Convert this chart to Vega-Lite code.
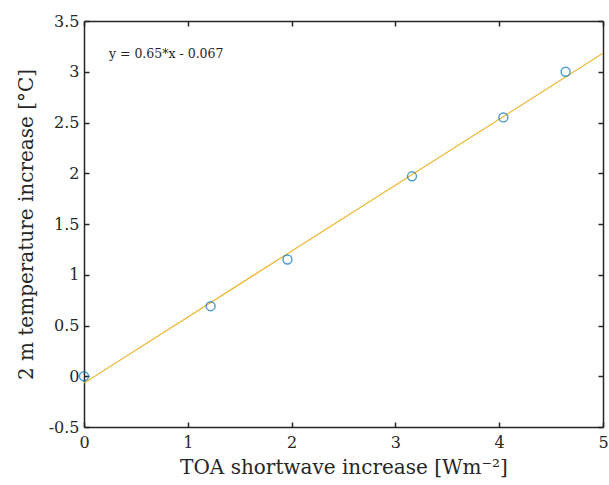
{
  "$schema": "https://vega.github.io/schema/vega-lite/v6.json",
  "autosize": "none",
  "width": 519,
  "height": 406,
  "padding": {"left": 84, "top": 21, "right": 6, "bottom": 58},
  "background": "white",
  "config": {
    "view": {"stroke": null},
    "font": "DejaVu Serif",
    "axis": {
      "domainColor": "#262626",
      "domainWidth": 1.5,
      "tickColor": "#262626",
      "tickWidth": 1.5,
      "tickSize": -5,
      "grid": false,
      "labelFlush": false,
      "labelOverlap": false,
      "labelFont": "DejaVu Serif",
      "labelFontSize": 16,
      "labelColor": "#262626",
      "titleFont": "DejaVu Serif",
      "titleFontSize": 20,
      "titleFontWeight": "normal",
      "titleColor": "#262626"
    }
  },
  "datasets": {
    "runs": [
      {"sw": 0.0, "t2m": 0.0},
      {"sw": 1.22, "t2m": 0.69},
      {"sw": 1.96, "t2m": 1.15},
      {"sw": 3.16, "t2m": 1.97},
      {"sw": 4.04, "t2m": 2.55},
      {"sw": 4.64, "t2m": 3.0}
    ],
    "fit": [
      {"sw": 0, "t2m": -0.067},
      {"sw": 5, "t2m": 3.183}
    ],
    "note": [
      {"sw": 0.24, "t2m": 3.17, "label": "y = 0.65*x - 0.067"}
    ]
  },
  "layer": [
    {
      "data": {"name": "fit"},
      "mark": {"type": "line", "color": "#EDB120", "strokeWidth": 1.1, "clip": true},
      "encoding": {
        "x": {
          "field": "sw", "type": "quantitative",
          "scale": {"domain": [0, 5], "nice": false, "zero": false},
          "axis": {
            "orient": "top", "labels": false, "title": null,
            "values": [0, 1, 2, 3, 4, 5]
          }
        },
        "y": {
          "field": "t2m", "type": "quantitative",
          "scale": {"domain": [-0.5, 3.5], "nice": false, "zero": false},
          "axis": {
            "orient": "right", "labels": false, "title": null,
            "values": [-0.5, 0, 0.5, 1, 1.5, 2, 2.5, 3, 3.5]
          }
        }
      }
    },
    {
      "data": {"name": "runs"},
      "mark": {"type": "point", "shape": "circle", "filled": false, "color": "#0072BD", "strokeWidth": 1.4, "size": 80},
      "encoding": {
        "x": {
          "field": "sw", "type": "quantitative",
          "axis": {
            "orient": "bottom",
            "values": [0, 1, 2, 3, 4, 5],
            "labelExpr": "format(datum.value, '~g')",
            "labelPadding": 12,
            "title": "TOA shortwave increase [Wm⁻²]",
            "titlePadding": 7
          }
        },
        "y": {
          "field": "t2m", "type": "quantitative",
          "axis": {
            "orient": "left",
            "values": [-0.5, 0, 0.5, 1, 1.5, 2, 2.5, 3, 3.5],
            "labelExpr": "replace(format(datum.value, '~g'), '−', '-')",
            "labelPadding": 10,
            "title": "2 m temperature increase [°C]",
            "titlePadding": 12
          }
        }
      }
    },
    {
      "data": {"name": "note"},
      "mark": {"type": "text", "align": "left", "baseline": "middle", "fontSize": 12.5, "font": "DejaVu Serif", "color": "#262626"},
      "encoding": {
        "x": {"field": "sw", "type": "quantitative", "axis": null},
        "y": {"field": "t2m", "type": "quantitative", "axis": null},
        "text": {"field": "label"}
      }
    }
  ],
  "resolve": {"axis": {"x": "independent", "y": "independent"}}
}
